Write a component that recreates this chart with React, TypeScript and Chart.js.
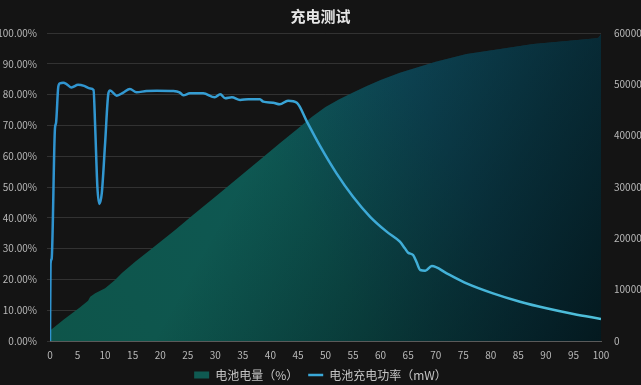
import { useEffect, useRef } from 'react';
import { Chart, registerables } from 'chart.js';

Chart.register(...registerables);

const FONT = '"Noto Sans CJK SC", "Noto Sans", sans-serif';

const titleText = '充电测试';
const batteryLabel = '电池电量（%）';
const powerLabel = '电池充电功率（mW）';

const xTickValues = [0, 5, 10, 15, 20, 25, 30, 35, 40, 45, 50, 55, 60, 65, 70, 75, 80, 85, 90, 95, 100];
const leftTickValues = [0, 10, 20, 30, 40, 50, 60, 70, 80, 90, 100];
const rightTickValues = [0, 10000, 20000, 30000, 40000, 50000, 60000];

const batteryTime = [0, 0.3, 2.5, 5.4, 6.9, 7.3, 8.2, 10, 11.8, 13, 15.5, 18.1, 22.7, 26, 30, 34, 38, 41.7, 45, 47.5, 50, 52.5, 55, 57.5, 60, 63.5, 66, 70, 75.6, 81.7, 87.7, 93.8, 99.2, 99.6, 100];
const batteryLevel = [3.5, 3.8, 7, 10.9, 13.1, 14.4, 15.5, 17.1, 19.8, 22, 25.8, 29.5, 36, 41, 46.8, 52.8, 58.7, 64.2, 69, 72.7, 76, 78.5, 80.7, 82.8, 84.7, 87.1, 88.5, 90.7, 93.2, 94.8, 96.4, 97.4, 98.3, 98.5, 99.7];

const powerTime = [0, 0.1, 0.3, 0.9, 1.1, 1.5, 1.8, 2.4, 3, 3.9, 5.1, 6.2, 7.3, 7.9, 8.2, 8.6, 8.95, 9.4, 10, 10.6, 10.9, 12.1, 13.3, 14.5, 15.7, 17.5, 19.4, 22.4, 23.5, 24.2, 25.4, 27.8, 29.9, 30.9, 31.8, 33, 34.5, 36, 38.1, 38.7, 40.5, 41.7, 43.2, 44.8, 46.6, 49, 52, 55, 58.1, 61.1, 63.5, 64.4, 65, 65.9, 66.5, 67.2, 68.1, 69.3, 72, 75.6, 80.4, 85.3, 90.1, 95, 100];
const powerValue = [0, 15000, 16000, 41400, 42500, 49500, 50200, 50300, 50060, 49400, 49900, 49700, 49200, 48900, 41700, 30000, 26700, 28800, 38500, 48250, 48800, 47800, 48400, 49100, 48450, 48700, 48760, 48700, 48450, 47860, 48250, 48250, 47470, 48050, 47280, 47470, 46950, 47100, 47080, 46630, 46430, 46110, 46820, 46400, 42800, 38000, 32660, 28100, 24200, 21300, 19340, 18050, 17200, 16750, 15450, 13830, 13700, 14600, 13180, 11240, 9290, 7660, 6370, 5260, 4300];

export default function App() {
  const canvasRef = useRef<HTMLCanvasElement | null>(null);

  useEffect(() => {
    document.body.style.margin = '0';
    document.body.style.background = '#141414';
    const canvas = canvasRef.current;
    if (!canvas) return;

    const batteryPts = batteryTime.map((t, i) => ({ x: t, y: batteryLevel[i] }));
    const powerPts = powerTime.map((t, i) => ({ x: t, y: powerValue[i] }));

    const baseFill = (ctx: any) => {
      const ca = ctx.chart.chartArea;
      if (!ca) return '#0e5a50';
      const g = ctx.chart.ctx.createLinearGradient(ca.left, ca.bottom, ca.right, ca.top);
      g.addColorStop(0, '#0e554a');
      g.addColorStop(0.45, '#0e5853');
      g.addColorStop(0.7, '#0f4e60');
      g.addColorStop(1, '#0f4a5e');
      return g;
    };
    const shadeFill = (ctx: any) => {
      const ca = ctx.chart.chartArea;
      if (!ca) return 'rgba(0,0,0,0)';
      const g = ctx.chart.ctx.createLinearGradient(ca.left, ca.top, ca.right, ca.bottom);
      g.addColorStop(0, 'rgba(2,18,22,0)');
      g.addColorStop(0.38, 'rgba(2,18,22,0)');
      g.addColorStop(0.75, 'rgba(2,18,22,0.55)');
      g.addColorStop(1, 'rgba(2,18,22,0.88)');
      return g;
    };
    const lineColor = (ctx: any) => {
      const ca = ctx.chart.chartArea;
      if (!ca) return '#3aa8d8';
      const g = ctx.chart.ctx.createLinearGradient(ca.left, 0, ca.right, 0);
      g.addColorStop(0, '#2f93cf');
      g.addColorStop(0.5, '#3aa6d6');
      g.addColorStop(1, '#4fc0da');
      return g;
    };

    const tickFont = { family: FONT, size: 10 };
    const tickColor = '#b8b8b8';

    const chart = new Chart(canvas, {
      type: 'line',
      data: {
        datasets: [
          {
            label: powerLabel,
            data: powerPts,
            yAxisID: 'y1',
            borderColor: lineColor,
            backgroundColor: '#3aa8d8',
            borderWidth: 2.5,
            pointRadius: 0,
            fill: false,
            cubicInterpolationMode: 'monotone',
            order: 0,
          },
          {
            label: batteryLabel,
            data: batteryPts,
            yAxisID: 'y',
            borderWidth: 0,
            borderColor: 'rgba(0,0,0,0)',
            backgroundColor: baseFill,
            pointRadius: 0,
            fill: 'origin',
            order: 2,
          },
          {
            label: 'shade',
            data: batteryPts,
            yAxisID: 'y',
            borderWidth: 0,
            borderColor: 'rgba(0,0,0,0)',
            backgroundColor: shadeFill,
            pointRadius: 0,
            fill: 'origin',
            order: 1,
          },
        ],
      },
      options: {
        animation: false,
        responsive: false,
        devicePixelRatio: 1,
        layout: { padding: { left: 0, right: 0, top: 0, bottom: -6 } },
        plugins: {
          tooltip: { enabled: false },
          title: {
            display: true,
            text: titleText,
            color: '#e6e6e6',
            font: { family: FONT, size: 15, weight: 'bold' },
            padding: { top: 7, bottom: 8 },
          },
          legend: {
            display: true,
            position: 'bottom',
            labels: {
              usePointStyle: true,
              pointStyleWidth: 15,
              boxHeight: 7,
              padding: 10,
              color: '#c4c4c4',
              font: { family: FONT, size: 12 },
              generateLabels: (c: any) => {
                const items = (Chart.defaults as any).plugins.legend.labels.generateLabels(c);
                const bat = items.find((i: any) => i.datasetIndex === 1);
                const pow = items.find((i: any) => i.datasetIndex === 0);
                return [
                  { ...bat, fillStyle: '#0f5a52', strokeStyle: '#0f5a52', lineWidth: 0, pointStyle: 'rect' },
                  { ...pow, fillStyle: '#3aa8d8', strokeStyle: '#3aa8d8', lineWidth: 2.5, pointStyle: 'line' },
                ];
              },
            },
          },
        },
        scales: {
          x: {
            type: 'linear',
            min: 0,
            max: 100,
            grid: { display: false, drawTicks: false },
            border: { display: true, color: '#5a5a5a', width: 1 },
            ticks: {
              color: tickColor,
              font: tickFont,
              padding: 8,
              autoSkip: false,
              maxRotation: 0,
              callback: (v: any) => String(v),
            },
            afterBuildTicks: (s: any) => {
              s.ticks = xTickValues.map((v) => ({ value: v }));
            },
            afterFit: (s: any) => {
              s.height = 18;
            },
          },
          y: {
            type: 'linear',
            position: 'left',
            min: 0,
            max: 100,
            grid: { color: 'rgba(255,255,255,0.13)', tickLength: 3 },
            border: { display: false },
            ticks: {
              color: tickColor,
              font: tickFont,
              padding: 10,
              callback: (v: any) => Number(v).toFixed(2) + '%',
            },
            afterBuildTicks: (s: any) => {
              s.ticks = leftTickValues.map((v) => ({ value: v }));
            },
            afterFit: (s: any) => {
              s.width = 50;
            },
          },
          y1: {
            type: 'linear',
            position: 'right',
            min: 0,
            max: 60000,
            grid: { drawOnChartArea: false, drawTicks: false },
            border: { display: false },
            ticks: {
              color: tickColor,
              font: tickFont,
              padding: 13,
              callback: (v: any) => String(v),
            },
            afterBuildTicks: (s: any) => {
              s.ticks = rightTickValues.map((v) => ({ value: v }));
            },
            afterFit: (s: any) => {
              s.width = 40;
            },
          },
        },
      },
    } as any);

    return () => {
      chart.destroy();
    };
  }, []);

  return (
    <div style={{ width: 641, height: 385, background: '#141414' }}>
      <canvas ref={canvasRef} width={641} height={385} style={{ display: 'block' }} />
    </div>
  );
}
